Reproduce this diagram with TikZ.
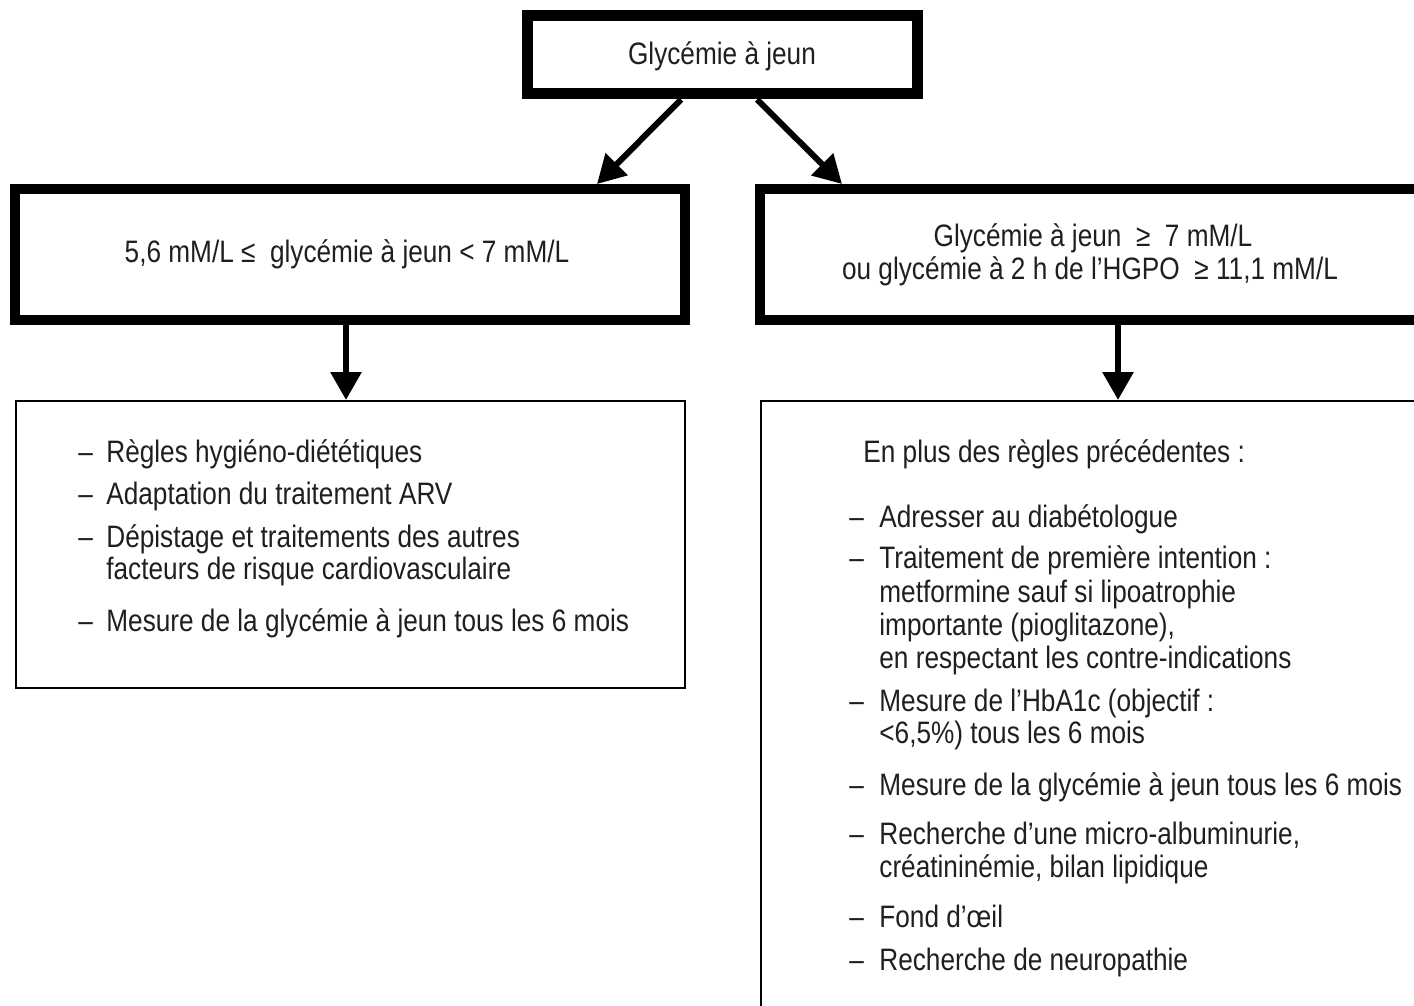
\documentclass[tikz,border=0pt]{standalone}
\usepackage{fontspec}
\setmainfont{Liberation Sans}[FakeStretch=0.845]
\usetikzlibrary{arrows.meta}
\newcommand\dl{\makebox[14pt][l]{–}}
\newcommand\dr{\makebox[15pt][l]{–}}
\begin{document}
\begin{tikzpicture}[x=0.5pt,y=-0.5pt,
  every node/.style={font=\fontsize{15.5pt}{18pt}\selectfont, text=black!88},
  thickbox/.style={draw, rectangle, line width=5.5pt, inner sep=0pt, align=center},
  thinbox/.style={draw, rectangle, line width=1pt, inner sep=0pt},
  arr/.style={line width=3pt, -{Triangle[width=15pt,length=14pt]}},
  item/.style={anchor=mid west, inner sep=0pt}]
\useasboundingbox (0,0) rectangle (1414,1006);
\clip (0,0) rectangle (1414,1006);
% boxes
\node[thickbox, minimum width=195pt, minimum height=39pt] (top) at (722,55) {};
\node[thickbox, line width=5pt, minimum width=335pt, minimum height=65.5pt] (lmid) at (350,254.5) {};
\node[thickbox, line width=5pt, minimum width=331pt, minimum height=65.5pt] (rmid) at (1091,254.5) {};
\node[thinbox, minimum width=334.5pt, minimum height=143.5pt] (llow) at (350.5,544.5) {};
\node[thinbox, minimum width=332pt, minimum height=314.5pt] (rlow) at (1093,715.5) {};
% box texts
\node[item, anchor=mid] (toptxt) at (722,59) {Glycémie à jeun};
\node[item, anchor=mid] (lmidtxt) at (347,257) {5,6 mM/L ≤ \ glycémie à jeun < 7 mM/L};
\node[item, anchor=mid] (rmidtxt1) at (1093,241) {Glycémie à jeun \ ≥ \ 7 mM/L};
\node[item, anchor=mid] (rmidtxt2) at (1090,274) {ou glycémie à 2 h de l’HGPO \ ≥ 11,1 mM/L};
% arrows
\draw[arr] ([xshift=-20.5pt]top.south) -- ([xshift=123.5pt]lmid.north);
\draw[arr] ([xshift=17.5pt]top.south) -- ([xshift=-124.5pt]rmid.north);
\draw[arr] ([xshift=-2pt]lmid.south) -- ([xshift=-2pt]lmid.south |- llow.north);
\draw[arr] ([xshift=13.5pt]rmid.south) -- ([xshift=13.5pt]rmid.south |- rlow.north);
% left list
\node[item] (l1) at (78,457) {\dl Règles hygiéno-diététiques};
\node[item] (l2) at (78,499) {\dl Adaptation du traitement ARV};
\node[item] (l3a) at (78,542) {\dl Dépistage et traitements des autres};
\node[item] (l3b) at (106,574) {facteurs de risque cardiovasculaire};
\node[item] (l4) at (78,626) {\dl Mesure de la glycémie à jeun tous les 6 mois};
% right list
\node[item] (rh) at (863,457) {En plus des règles précédentes :};
\node[item] (r1) at (849,522) {\dr Adresser au diabétologue};
\node[item] (r2a) at (849,563) {\dr Traitement de première intention :};
\node[item] (r2b) at (879,597) {metformine sauf si lipoatrophie};
\node[item] (r2c) at (879,630) {importante (pioglitazone),};
\node[item] (r2d) at (879,663) {en respectant les contre-indications};
\node[item] (r3a) at (849,706) {\dr Mesure de l’HbA1c (objectif :};
\node[item] (r3b) at (879,738) {<6,5\%) tous les 6 mois};
\node[item] (r4) at (849,790) {\dr Mesure de la glycémie à jeun tous les 6 mois};
\node[item] (r5a) at (849,839) {\dr Recherche d’une micro-albuminurie,};
\node[item] (r5b) at (879,872) {créatininémie, bilan lipidique};
\node[item] (r6) at (849,922) {\dr Fond d’œil};
\node[item] (r7) at (849,965) {\dr Recherche de neuropathie};
\end{tikzpicture}
\end{document}
